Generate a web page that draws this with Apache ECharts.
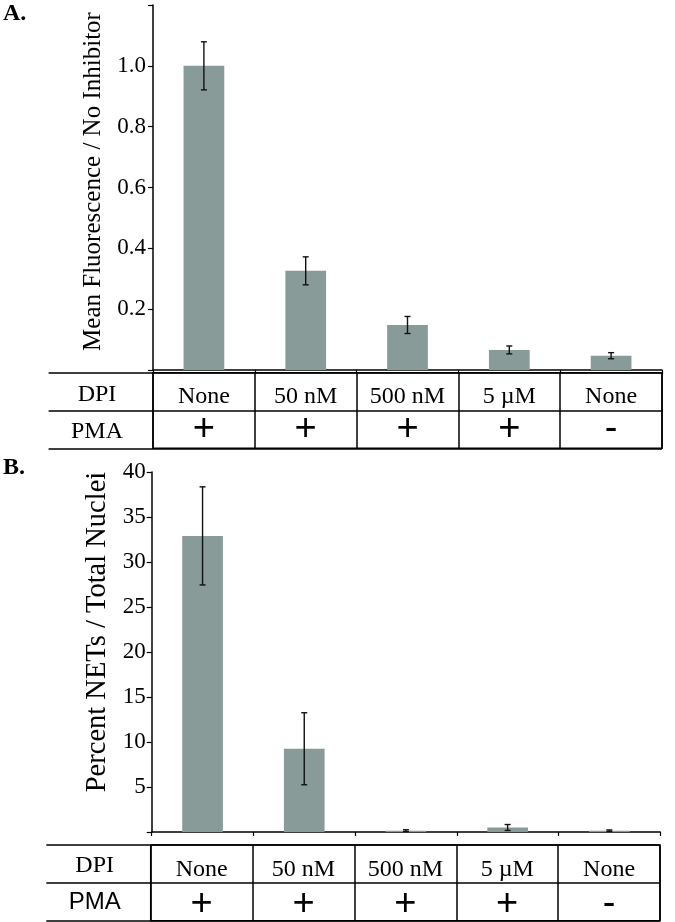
<!DOCTYPE html>
<html><head><meta charset="utf-8">
<script src="https://cdn.jsdelivr.net/npm/echarts@6/dist/echarts.min.js"></script>
<style>html,body{margin:0;padding:0;background:#fff}#c{width:675px;height:922px}</style>
</head><body><div id="c"></div>
<script>
// ---- data ----
const categories = ['None', '50 nM', '500 nM', '5 µM', 'None'];
const dpiLabels = ['None', '50 nM', '500 nM', '5 µM', 'None'];
const pmaLabels = ['+', '+', '+', '+', '-'];
const rowHeaders = ['DPI', 'PMA'];
const fluorMean = [1.0, 0.326, 0.148, 0.066, 0.047];
const fluorErr = [0.079, 0.046, 0.028, 0.013, 0.010];
const netsMean = [32.9, 9.25, 0.15, 0.5, 0.15];
const netsErr = [5.45, 4.0, 0.1, 0.33, 0.08];
const titleA = 'Mean Fluorescence / No Inhibitor';
const titleB = 'Percent NETs / Total Nuclei';

const SERIF = '"Liberation Serif", serif';
const SANS = '"Liberation Sans", sans-serif';
const BAR = '#899b98';
const BLK = '#000';

function errData(mean, err) {
  return mean.map((m, i) => [i, m - err[i], m + err[i]]);
}
function errRender(params, api) {
  const x = api.value(0);
  const lo = api.coord([x, api.value(1)]);
  const hi = api.coord([x, api.value(2)]);
  const w = 3;
  const st = { stroke: '#111', lineWidth: 1.4 };
  return { type: 'group', children: [
    { type: 'line', shape: { x1: lo[0], y1: lo[1], x2: hi[0], y2: hi[1] }, style: st },
    { type: 'line', shape: { x1: lo[0] - w, y1: lo[1], x2: lo[0] + w, y2: lo[1] }, style: st },
    { type: 'line', shape: { x1: hi[0] - w, y1: hi[1], x2: hi[0] + w, y2: hi[1] }, style: st }
  ]};
}

function chartX(gi) {
  return { gridIndex: gi, type: 'category', data: categories,
    axisLine: { show: true, lineStyle: { color: BLK, width: 1.5 } },
    axisTick: { show: true, length: 4, lineStyle: { color: BLK, width: 1.2 } },
    axisLabel: { show: false }, splitLine: { show: false } };
}
function tableX(gi, pos, off, data, font, size) {
  return { gridIndex: gi, type: 'category', position: pos, offset: off, data: data,
    axisLine: { show: false }, axisTick: { show: false },
    axisLabel: { interval: 0, margin: 0, verticalAlign: 'middle', fontFamily: font, fontSize: size, color: BLK },
    splitLine: { show: pos === 'top', lineStyle: { color: BLK, width: 1.5 } } };
}
function tableY(gi, pmaFont, padD, padP) {
  return [
    { gridIndex: gi, type: 'category', data: rowHeaders, inverse: true,
      axisLine: { show: false },
      axisTick: { show: true, length: 104.4, lineStyle: { color: BLK, width: 1.5 } },
      splitLine: { show: true, lineStyle: { color: BLK, width: 1.5 } },
      axisLabel: { margin: 56, align: 'center', verticalAlign: 'middle',
        fontFamily: SERIF, fontSize: 24, color: BLK,
        formatter: v => v === 'PMA' ? '{p|' + v + '}' : '{d|' + v + '}',
        rich: { d: { fontFamily: SERIF, fontSize: 24, color: BLK, padding: [padD, 0, 0, 0] },
                p: { fontFamily: pmaFont, fontSize: 24, color: BLK, padding: [padP, 0, 0, 0] } } } },
    { gridIndex: gi, type: 'category', data: rowHeaders, inverse: true, offset: 104.4,
      axisLine: { show: true, lineStyle: { color: BLK, width: 1.5 } },
      axisTick: { show: false }, axisLabel: { show: false }, splitLine: { show: false } }
  ];
}

const tA = tableY(1, SERIF, 7, 5);
const tB = tableY(3, SANS, 4, 2);

const option = {
  animation: false,
  backgroundColor: '#fff',
  grid: [
    { left: 153, top: 5, width: 509, height: 365, containLabel: false, outerBoundsMode: 'none' },
    { left: 153, top: 372.7, width: 509, height: 75.6, show: true, borderColor: BLK, borderWidth: 1.5, containLabel: false, outerBoundsMode: 'none' },
    { left: 151.7, top: 472, width: 508.5, height: 360, containLabel: false, outerBoundsMode: 'none' },
    { left: 150.7, top: 845, width: 509.3, height: 75.7, show: true, borderColor: BLK, borderWidth: 1.5, containLabel: false, outerBoundsMode: 'none' }
  ],
  xAxis: [
    chartX(0),
    tableX(1, 'top', -24, dpiLabels, SERIF, 24),
    tableX(1, 'bottom', -19, pmaLabels, SANS, 38),
    chartX(2),
    tableX(3, 'top', -24.5, dpiLabels, SERIF, 24),
    tableX(3, 'bottom', -16, pmaLabels, SANS, 38)
  ],
  yAxis: [
    { gridIndex: 0, type: 'value', min: 0, max: 1.2, interval: 0.2,
      axisLine: { show: true, lineStyle: { color: BLK, width: 1.5 } },
      axisTick: { show: true, length: 5, lineStyle: { color: BLK, width: 1.2 } },
      splitLine: { show: false },
      axisLabel: { margin: 7, fontFamily: SERIF, fontSize: 23, color: BLK,
        formatter: v => (v < 0.1 || v > 1.1) ? '' : v.toFixed(1) },
      name: titleA, nameLocation: 'middle', nameGap: 39,
      nameTextStyle: { fontFamily: SERIF, fontSize: 25, color: BLK, padding: [0, 0, 0, 12] } },
    tA[0], tA[1],
    { gridIndex: 2, type: 'value', min: 0, max: 40, interval: 5,
      axisLine: { show: true, lineStyle: { color: BLK, width: 1.5 } },
      axisTick: { show: true, length: 5, lineStyle: { color: BLK, width: 1.2 } },
      splitLine: { show: false },
      axisLabel: { margin: 6, fontFamily: SERIF, fontSize: 23, color: BLK,
        formatter: v => v === 0 ? '' : String(v) },
      name: titleB, nameLocation: 'middle', nameGap: 39,
      nameTextStyle: { fontFamily: SERIF, fontSize: 28.5, color: BLK, padding: [0, 0, 0, 40] } },
    tB[0], tB[1]
  ],
  series: [
    { type: 'bar', xAxisIndex: 0, yAxisIndex: 0, data: fluorMean, barWidth: '40%',
      itemStyle: { color: BAR } },
    { type: 'custom', xAxisIndex: 0, yAxisIndex: 0, data: errData(fluorMean, fluorErr),
      renderItem: errRender, encode: { x: 0, y: [1, 2] }, z: 5 },
    { type: 'bar', xAxisIndex: 3, yAxisIndex: 3, data: netsMean, barWidth: '40%',
      itemStyle: { color: BAR } },
    { type: 'custom', xAxisIndex: 3, yAxisIndex: 3, data: errData(netsMean, netsErr),
      renderItem: errRender, encode: { x: 0, y: [1, 2] }, z: 5 }
  ],
  graphic: [
    { type: 'text', left: 3, top: 2, style: { text: 'A.', fontFamily: SERIF, fontWeight: 'bold', fontSize: 24, fill: BLK } },
    { type: 'text', left: 3, top: 456, style: { text: 'B.', fontFamily: SERIF, fontWeight: 'bold', fontSize: 24, fill: BLK } }
  ]
};
const chart = echarts.init(document.getElementById('c'), null, { renderer: 'canvas' });
chart.setOption(option);
</script>
</body></html>
